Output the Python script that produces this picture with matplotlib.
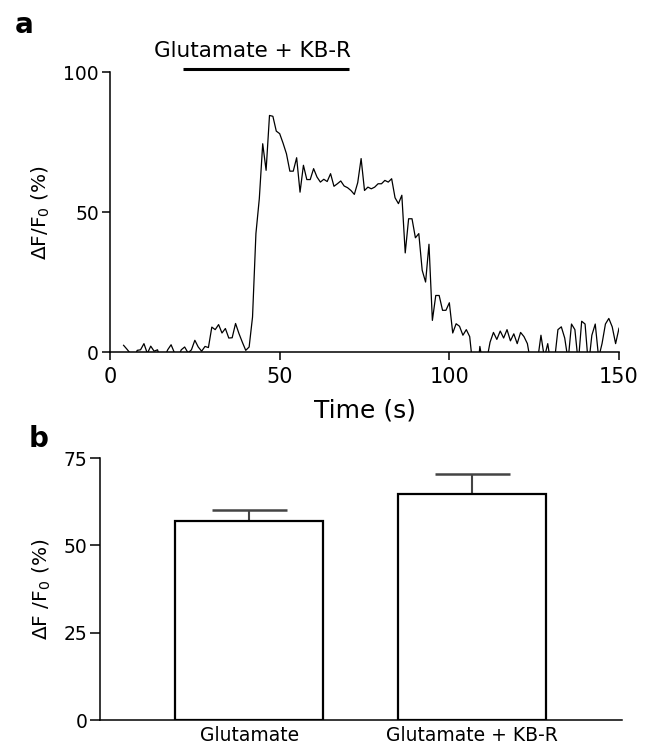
import matplotlib
matplotlib.use("Agg")
import matplotlib.pyplot as plt
import numpy as np

plt.rcParams['font.family'] = ['DejaVu Sans']

# panel a: calcium trace, one sample per second
time_s = list(range(4, 151))
dff = [
    2.4, 1.0, -0.5, -3.0, 0.6, 0.8, 3.0, -0.5, 2.1, 0.3,   # 4-13
    0.8, -3.0, -2.0, 0.8, 2.6, -0.3, -2.0, 0.8, 1.8, -0.3,  # 14-23
    0.8, 4.2, 1.8, 0.3, 2.0, 1.6, 8.9, 8.0, 9.8, 6.8,      # 24-33
    8.4, 5.0, 5.1, 10.2, 6.6, 3.5, 0.6, 1.8, 12.5, 42.3,   # 34-43
    54.8, 74.4, 64.9, 84.5, 84.2, 78.9, 78.0, 74.6, 70.8, 64.6,  # 44-53
    64.6, 69.4, 57.1, 66.7, 61.6, 61.6, 65.5, 62.5, 60.7, 61.7,  # 54-63
    60.9, 63.7, 59.2, 60.1, 61.1, 59.3, 58.7, 57.7, 56.3, 60.5,  # 64-73
    69.1, 57.7, 58.9, 58.3, 58.9, 60.1, 60.1, 61.3, 60.7, 61.9,  # 74-83
    55.1, 53.0, 56.0, 35.4, 47.6, 47.6, 40.8, 42.3, 29.2, 25.0,  # 84-93
    38.5, 11.3, 20.2, 20.2, 14.9, 14.9, 17.6, 6.8, 10.1, 9.2,    # 94-103
    6.0, 8.0, 5.5, -6.0, -10.0, 2.0, -5.0, -3.0, 3.5, 7.0,       # 104-113
    4.5, 7.5, 5.0, 8.0, 4.0, 6.5, 3.0, 7.0, 5.5, 3.0,            # 114-123
    -4.0, -6.0, -3.0, 6.0, -2.0, 3.0, -5.0, -3.0, 8.0, 9.0,      # 124-133
    5.0, -3.0, 10.0, 8.0, -4.0, 11.0, 10.0, -5.0, 6.0, 10.0,     # 134-143
    -2.0, 3.0, 10.0, 12.0, 9.0, 3.0, 8.5,                        # 144-150
]
stim_label = 'Glutamate + KB-R'
stim_start, stim_end = 21.5, 70.5

# panel b: mean peak response
groups = ['Glutamate', 'Glutamate + KB-R']
means = [57.1, 64.6]
sems = [3.0, 5.9]

fig = plt.figure(figsize=(6.56, 7.49), dpi=100)

# ---- panel a ----
ax1 = fig.add_axes([0.1677, 0.530, 0.7759, 0.3738])
ax1.plot(time_s, dff, color='black', lw=0.9)
ax1.set_xlim(0, 150)
ax1.set_ylim(0, 100)
ax1.set_xticks([0, 50, 100, 150])
ax1.set_yticks([0, 50, 100])
ax1.spines['top'].set_visible(False)
ax1.spines['right'].set_visible(False)
for s in ['left', 'bottom']:
    ax1.spines[s].set_linewidth(1.1)
ax1.tick_params(axis='x', length=6, width=1.1, labelsize=15, pad=5)
ax1.tick_params(axis='y', length=6, width=1.1, labelsize=13.5, pad=2)
ax1.set_xlabel('Time (s)', fontsize=18, labelpad=8)
ax1.set_ylabel('ΔF/F$_0$ (%)', fontsize=14.5, labelpad=8)
ax1.plot([stim_start, stim_end], [101, 101], color='black', lw=2.2,
         clip_on=False, solid_capstyle='butt')
ax1.text((stim_start + stim_end) / 2 - 4, 105.5, stim_label, fontsize=15.5,
         ha='center', va='baseline')

fig.text(0.022, 0.956, 'a', fontsize=20, fontweight='bold', va='baseline')

# ---- panel b ----
ax2 = fig.add_axes([0.1524, 0.0387, 0.7957, 0.3498])
x = np.arange(len(groups))
ax2.bar(x, means, width=0.664, color='white', edgecolor='black', lw=1.6, zorder=2)
ax2.errorbar(x, means, yerr=[[0, 0], sems], fmt='none', ecolor='#444444',
             elinewidth=1.5, capsize=27, capthick=1.8, zorder=1)
ax2.set_xlim(-0.67, 1.673)
ax2.set_ylim(0, 75)
ax2.set_yticks([0, 25, 50, 75])
ax2.set_xticks(x)
ax2.set_xticklabels(groups, fontsize=13.5)
ax2.spines['top'].set_visible(False)
ax2.spines['right'].set_visible(False)
for s in ['left', 'bottom']:
    ax2.spines[s].set_linewidth(1.1)
ax2.tick_params(axis='x', length=0, pad=4)
ax2.tick_params(axis='y', length=7, width=1.1, labelsize=13.5, pad=2)
ax2.set_ylabel('ΔF /F$_0$ (%)', fontsize=14.5, labelpad=8)

fig.text(0.043, 0.4036, 'b', fontsize=20, fontweight='bold', va='baseline')

fig.savefig('out.png', dpi=100)
